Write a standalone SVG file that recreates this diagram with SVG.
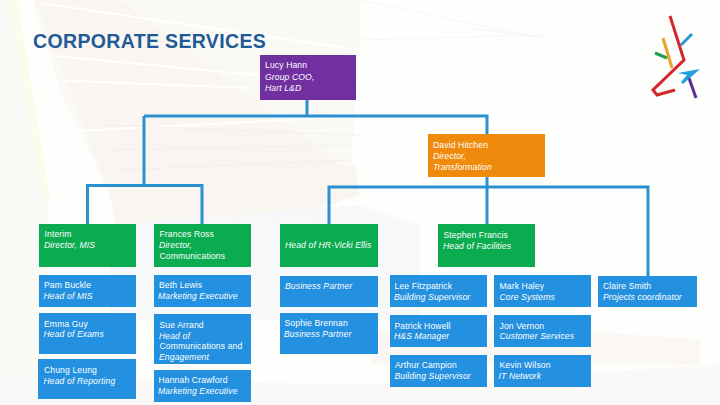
<svg xmlns="http://www.w3.org/2000/svg" width="720" height="405" viewBox="0 0 720 405">
<style>
text{font-family:"Liberation Sans",Arial,sans-serif;font-size:8.600px;fill:#fff;letter-spacing:.12px}
.r{font-style:italic}
.blue{fill:#2490e0}.green{fill:#0bab4f}
.c{fill:none;stroke:#2a90d0;stroke-width:3}
.bg{fill:none;stroke-linecap:round}
</style>
<g id="background">
<rect width="720" height="405" fill="#fefefd"/>
<polygon points="33,0 360,0 360,40 350,175 110,195 60,90" fill="#fbf9f6"/>
<polygon points="35,0 120,0 355,175 350,195 110,195" fill="#f9f5f0"/>
<polygon points="110,195 355,165 360,195 300,215 115,225" fill="#f9f5f1"/>
<polygon points="0,0 12,0 48,205 48,405 0,405" fill="#f9faf6"/>
<polygon points="8,0 18,0 50,200 44,200" fill="#fcfcec"/>
<polygon points="110,225 360,205 420,225 420,320 110,320" fill="#f6f8f9"/>
<polygon points="0,375 360,385 720,365 720,405 0,405" fill="#fbf9f7"/>
<polygon points="380,330 510,325 700,340 700,365 370,365" fill="#faf7f5"/>
<path class="bg" stroke="#ffffff" stroke-width="2" d="M40,3 360,50M46,55 360,85M50,80 250,88M55,132 330,118"/>
<path class="bg" stroke="#efeae6" stroke-width=".6" d="M100,125 360,135M110,150 350,145M120,170 350,160"/>
<path class="bg" stroke="#f2f2f0" stroke-width=".7" d="M360,0 540,38M360,40 545,35M240,205V224M275,180V224M317,160V224M470,28 545,38 600,0"/>
</g>
<g id="connectors">
<path class="c" d="M307,100V116M144,116H487V134M144,116V185M87.500,224V185.500H202V224"/>
<path class="c" d="M487,177V224M329,224V187H648V276"/>
</g>
<g id="title"><text x="33" y="48" style="font-size:19.500px;font-weight:bold;fill:#1f5b96;letter-spacing:.35px">CORPORATE SERVICES</text></g>
<g id="lucy-hann"><rect x="260" y="55" width="96" height="45" fill="#7030a0"/><text x="265" y="68">Lucy Hann</text><text x="265" y="79.500" class="r">Group COO,</text><text x="265" y="90.500" class="r">Hart L&amp;D</text></g>
<g id="david-hitchen"><rect x="428" y="134" width="117" height="43" fill="#ef8a0c"/><text x="433" y="148">David Hitchen</text><text x="433" y="159" class="r">Director,</text><text x="433" y="170" class="r">Transformation</text></g>
<g id="interim"><rect class="green" x="39" y="224" width="97" height="43"/><text x="44.500" y="237">Interim</text><text x="44" y="248" class="r">Director, MIS</text></g>
<g id="frances-ross"><rect class="green" x="154" y="224" width="97" height="43"/><text x="159.500" y="237">Frances Ross</text><text x="159" y="248" class="r">Director,</text><text x="159.500" y="259">Communications</text></g>
<g id="head-of-hr"><rect class="green" x="280" y="224" width="98" height="43"/><text x="285" y="248" class="r">Head of HR-Vicki Ellis</text></g>
<g id="stephen-francis"><rect class="green" x="438" y="224" width="97" height="43"/><text x="443.500" y="238">Stephen Francis</text><text x="443" y="249" class="r">Head of Facilities</text></g>
<g id="pam-buckle"><rect class="blue" x="39" y="275" width="97" height="32"/><text x="44" y="288">Pam Buckle</text><text x="43.500" y="299" class="r">Head of MIS</text></g>
<g id="emma-guy"><rect class="blue" x="39" y="313" width="97" height="41"/><text x="44" y="327">Emma Guy</text><text x="43.500" y="337" class="r">Head of Exams</text></g>
<g id="chung-leung"><rect class="blue" x="38" y="359" width="98" height="40"/><text x="44" y="373">Chung Leung</text><text x="43.500" y="384" class="r">Head of Reporting</text></g>
<g id="beth-lewis"><rect class="blue" x="154" y="275" width="97" height="32"/><text x="159" y="288">Beth Lewis</text><text x="158" y="299" class="r">Marketing Executive</text></g>
<g id="sue-arrand"><rect class="blue" x="154" y="314" width="97" height="50"/><text x="159.500" y="328">Sue Arrand</text><text x="159" y="339" class="r">Head of</text><text x="159.500" y="349">Communications and</text><text x="159" y="360" class="r">Engagement</text></g>
<g id="hannah-crawford"><rect class="blue" x="154" y="370" width="97" height="32"/><text x="158.500" y="383">Hannah Crawford</text><text x="158" y="394" class="r">Marketing Executive</text></g>
<g id="business-partner"><rect class="blue" x="280" y="276" width="98" height="31"/><text x="285" y="289" class="r">Business Partner</text></g>
<g id="sophie-brennan"><rect class="blue" x="280" y="313" width="98" height="41"/><text x="284.500" y="326">Sophie Brennan</text><text x="284" y="337" class="r">Business Partner</text></g>
<g id="lee-fitzpatrick"><rect class="blue" x="390" y="275" width="97" height="32"/><text x="394.500" y="289">Lee Fitzpatrick</text><text x="394" y="300" class="r">Building Supervisor</text></g>
<g id="mark-haley"><rect class="blue" x="494" y="275" width="97" height="32"/><text x="499.500" y="289">Mark Haley</text><text x="499.500" y="300" class="r">Core Systems</text></g>
<g id="claire-smith"><rect class="blue" x="598" y="276" width="99" height="31"/><text x="603" y="289">Claire Smith</text><text x="603" y="300" class="r">Projects coordinator</text></g>
<g id="patrick-howell"><rect class="blue" x="390" y="315" width="97" height="32"/><text x="394.500" y="329">Patrick Howell</text><text x="394" y="339" class="r">H&amp;S Manager</text></g>
<g id="jon-vernon"><rect class="blue" x="494" y="315" width="97" height="32"/><text x="499.500" y="329">Jon Vernon</text><text x="499.500" y="339" class="r">Customer Services</text></g>
<g id="arthur-campion"><rect class="blue" x="390" y="355" width="97" height="32"/><text x="395" y="368">Arthur Campion</text><text x="394.500" y="379" class="r">Building Supervisor</text></g>
<g id="kevin-wilson"><rect class="blue" x="494" y="355" width="97" height="32"/><text x="499.500" y="368">Kevin Wilson</text><text x="498.500" y="379" class="r">IT Network</text></g>
<g id="logo" fill="none" stroke-width="3">
<path stroke="#2497dc" d="M681,45 692,34"/>
<path stroke="#1ea24a" d="M655,53 667,58"/>
<path stroke="#e9a227" d="M663,38 672,68"/>
<path stroke="#d3282a" d="M670,16 684,60 653,90 657,95 675,90"/>
<path stroke="#5b2d91" d="M689,78 696,98"/>
<polygon fill="#1f9ee0" stroke="none" points="678,73 700,69 683,84 681,82 687,75"/>
</g>
</svg>
